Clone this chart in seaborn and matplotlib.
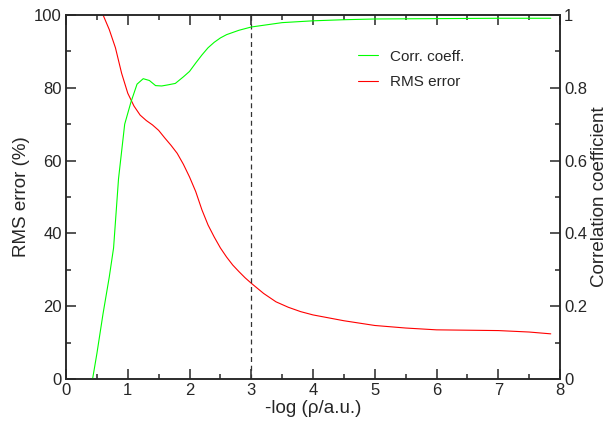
import matplotlib
matplotlib.use("Agg")
import matplotlib.pyplot as plt
from matplotlib.ticker import MultipleLocator
import numpy as np
import pandas as pd
import seaborn as sns

# RMS error (%) versus -log(rho)
rms_x = [0.5, 0.6, 0.7, 0.8, 0.9, 1.0, 1.1, 1.2, 1.3, 1.4, 1.5, 1.6, 1.7, 1.8,
         1.9, 2.0, 2.1, 2.2, 2.3, 2.4, 2.5, 2.6, 2.7, 2.8, 2.9, 3.0, 3.2, 3.4,
         3.6, 3.8, 4.0, 4.5, 5.0, 5.5, 6.0, 6.5, 7.0, 7.5, 7.85]
rms_y = [104, 100, 96, 91, 84, 78.5, 75, 72.5, 71, 69.8, 68.3, 66.2, 64.2, 62,
         59, 55.5, 51.5, 46.5, 42.3, 39, 36, 33.5, 31.3, 29.5, 27.8, 26.3, 23.5, 21.2,
         19.7, 18.5, 17.6, 16, 14.7, 14, 13.5, 13.4, 13.3, 12.9, 12.4]

# Correlation coefficient versus -log(rho)
corr_x = [0.43, 0.5, 0.6, 0.7, 0.77, 0.85, 0.95, 1.05, 1.15, 1.25, 1.35, 1.45,
          1.55, 1.65, 1.77, 1.9, 2.0, 2.1, 2.2, 2.3, 2.4, 2.5, 2.6, 2.8, 3.0,
          3.5, 4.0, 4.5, 5.0, 6.0, 7.0, 7.85]
corr_y = [0.0, 0.07, 0.18, 0.28, 0.36, 0.55, 0.70, 0.76, 0.81, 0.825, 0.82, 0.806,
          0.805, 0.808, 0.812, 0.83, 0.845, 0.868, 0.89, 0.91, 0.925, 0.937, 0.946,
          0.958, 0.967, 0.979, 0.984, 0.987, 0.989, 0.990, 0.991, 0.991]

x_ticks = [0, 1, 2, 3, 4, 5, 6, 7, 8]
left_ticks = [0, 20, 40, 60, 80, 100]
right_ticks = [0, 0.2, 0.4, 0.6, 0.8, 1.0]
right_tick_labels = ["0", "0.2", "0.4", "0.6", "0.8", "1"]
cutoff = 3.0

sns.set_style("ticks")
plt.rcParams["font.family"] = ["Liberation Sans", "DejaVu Sans"]
plt.rcParams["axes.linewidth"] = 1.1

fig = plt.figure(figsize=(6.08, 4.21), dpi=100)
ax = fig.add_axes([0.1086, 0.0998, 0.8125, 0.8646])
ax2 = ax.twinx()

rms_df = pd.DataFrame({"x": rms_x, "y": rms_y})
corr_df = pd.DataFrame({"x": corr_x, "y": corr_y})

sns.lineplot(data=rms_df, x="x", y="y", ax=ax, color="#ff0000", lw=0.8,
             label="RMS error", legend=False, sort=False)
sns.lineplot(data=corr_df, x="x", y="y", ax=ax2, color="#00ff00", lw=0.8,
             label="Corr. coeff.", legend=False, sort=False)

ax.axvline(cutoff, color="#333333", lw=0.9, ls=(0, (4, 3)))

ax.set_xlim(0, 8)
ax.set_ylim(0, 100)
ax2.set_ylim(0, 1)

ax.set_xticks(x_ticks)
ax.set_yticks(left_ticks)
ax2.set_yticks(right_ticks)
ax2.set_yticklabels(right_tick_labels)
ax.xaxis.set_minor_locator(MultipleLocator(0.5))
ax.yaxis.set_minor_locator(MultipleLocator(10))
ax2.yaxis.set_minor_locator(MultipleLocator(0.1))

for a in (ax, ax2):
    a.tick_params(which="major", direction="in", length=7, width=1.1,
                  labelsize=12, top=True, pad=3)
    a.tick_params(which="minor", direction="in", length=3.5, width=1.1, top=True)
    for s in a.spines.values():
        s.set_visible(True)
        s.set_linewidth(1.1)
ax.tick_params(axis="y", which="both", right=False)
ax2.tick_params(axis="y", which="both", left=False, right=True)

ax.set_xlabel("-log (ρ/a.u.)", fontsize=13.5, labelpad=1)
ax.set_ylabel("RMS error (%)", fontsize=13.5, labelpad=3)
ax2.set_ylabel("Correlation coefficient", fontsize=13.5, labelpad=3)

handles = ax2.get_lines()[:1] + ax.get_lines()[:1]
ax2.legend(handles, [h.get_label() for h in handles], loc="upper left",
           bbox_to_anchor=(0.591, 0.905), frameon=False, fontsize=11,
           borderpad=0, borderaxespad=0,
           handlelength=1.3, handletextpad=0.8, labelspacing=0.78)

fig.savefig("out.png", dpi=100)
